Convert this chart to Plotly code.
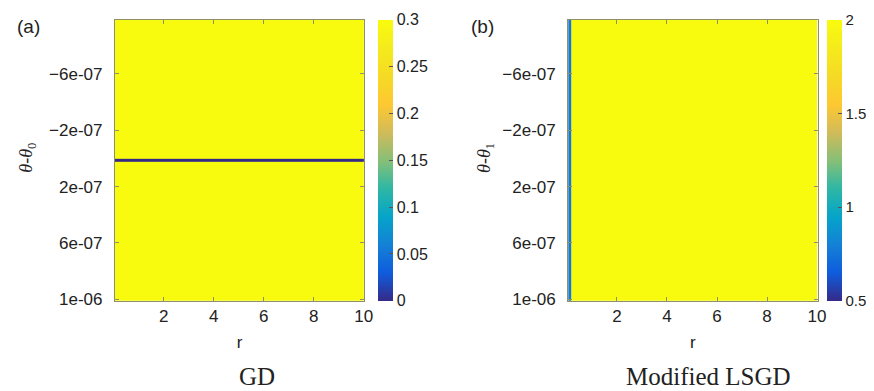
import plotly.graph_objects as go

# ---- data ----
# panel (a): GD, single column over r, three bands in theta-theta0
gd_r_edges = [0.05, 10.02]
gd_theta_edges = [-0.985e-6, 0.001e-6, 0.022e-6, 1.012e-6]
gd_values = [[0.3], [0.0], [0.3]]

# panel (b): Modified LSGD, narrow strip near r=0 then uniform
lsgd_r_edges = [0.05, 0.16, 10.02]
lsgd_theta_edges = [-0.985e-6, 1.012e-6]
lsgd_values = [[0.76, 2.0]]

y_tickvals = [-6e-7, -2e-7, 2e-7, 6e-7, 1e-6]
y_ticktext = ["\u22126e-07", "\u22122e-07", "2e-07", "6e-07", "1e-06"]
x_tickvals = [2, 4, 6, 8, 10]
cb_a_ticks = [0, 0.05, 0.1, 0.15, 0.2, 0.25, 0.3]
cb_a_text = ["0", "0.05", "0.1", "0.15", "0.2", "0.25", "0.3"]
cb_b_ticks = [0.5, 1, 1.5, 2]
cb_b_text = ["0.5", "1", "1.5", "2"]

parula = [
    [0.0, "#352a87"], [0.1, "#0f5cdd"], [0.2, "#1481d6"], [0.3, "#06a4ca"],
    [0.4, "#2eb7a4"], [0.5, "#87bf77"], [0.6, "#d1bb59"], [0.7, "#fec832"],
    [0.8, "#f5da25"], [0.9, "#f5eb1c"], [1.0, "#f9fb0e"],
]

W, H = 874, 391
def px(x): return x / W
def py(y): return 1 - y / H

top, bot = 12, 299
font = "Liberation Sans, Arial, sans-serif"
serif = "Liberation Serif, serif"
axis_col = "#8f8f6a"

def cbar(x0, ticks, text, size):
    return dict(x=px(x0), xanchor="left", thickness=15, thicknessmode="pixels",
                len=(bot - top) / H, lenmode="fraction", y=py((top + bot) / 2), yanchor="middle",
                tickvals=ticks, ticktext=text,
                ticks="inside", ticklen=4, tickcolor="#555", outlinewidth=0,
                tickfont=dict(family=font, size=size, color="#222"), xpad=0, ypad=0)

fig = go.Figure()
fig.add_trace(go.Heatmap(
    x=gd_r_edges, y=gd_theta_edges, z=gd_values, colorscale=parula,
    zmin=0, zmax=0.3, xaxis="x", yaxis="y",
    colorbar=cbar(374, cb_a_ticks, cb_a_text, 16),
))
fig.add_trace(go.Heatmap(
    x=lsgd_r_edges, y=lsgd_theta_edges, z=lsgd_values, colorscale=parula,
    zmin=0.5, zmax=2, xaxis="x2", yaxis="y2",
    colorbar=cbar(828, cb_b_ticks, cb_b_text, 15),
))

def xax(dom, anchor):
    return dict(domain=dom, anchor=anchor, range=[0.05, 10.02], tickvals=x_tickvals,
                ticks="inside", ticklen=4, tickcolor=axis_col, showline=True, linecolor=axis_col,
                mirror="ticks", showgrid=False, zeroline=False,
                tickfont=dict(family=font, size=17, color="#222"),
                title=dict(text="r", font=dict(family=font, size=17, color="#222"), standoff=10))

def yax(anchor):
    return dict(domain=[py(bot), py(top)], anchor=anchor, range=[1.012e-6, -0.985e-6],
                tickvals=y_tickvals, ticktext=y_ticktext, ticklabelstandoff=8,
                ticks="inside", ticklen=4, tickcolor=axis_col, showline=True, linecolor=axis_col,
                mirror="ticks", showgrid=False, zeroline=False,
                tickfont=dict(family=font, size=17, color="#222"))

fig.update_layout(
    width=W, height=H, margin=dict(l=0, r=0, t=0, b=0),
    paper_bgcolor="white", plot_bgcolor="white",
    xaxis=xax([px(108), px(360)], "y"),
    yaxis=yax("x"),
    xaxis2=xax([px(566), px(818)], "y2"),
    yaxis2=yax("x2"),
    showlegend=False,
)

ann = [
    dict(text="(a)", x=px(21), y=py(19), font=dict(family=font, size=19, color="#222")),
    dict(text="(b)", x=px(479), y=py(19), font=dict(family=font, size=19, color="#222")),
    dict(text="<i>θ</i>-<i>θ</i><sub>0</sub>", x=px(20), y=py(153), textangle=-90,
         font=dict(family=serif, size=18, color="#222")),
    dict(text="<i>θ</i>-<i>θ</i><sub>1</sub>", x=px(483), y=py(153), textangle=-90,
         font=dict(family=serif, size=18, color="#222")),
    dict(text="GD", x=px(252), y=py(376), font=dict(family=serif, size=25, color="#222")),
    dict(text="Modified LSGD", x=px(708), y=py(376), font=dict(family=serif, size=25, color="#222")),
]
for a in ann:
    a.update(xref="paper", yref="paper", showarrow=False, xanchor="center", yanchor="middle")
fig.update_layout(annotations=ann)

fig.write_html("out.html")
